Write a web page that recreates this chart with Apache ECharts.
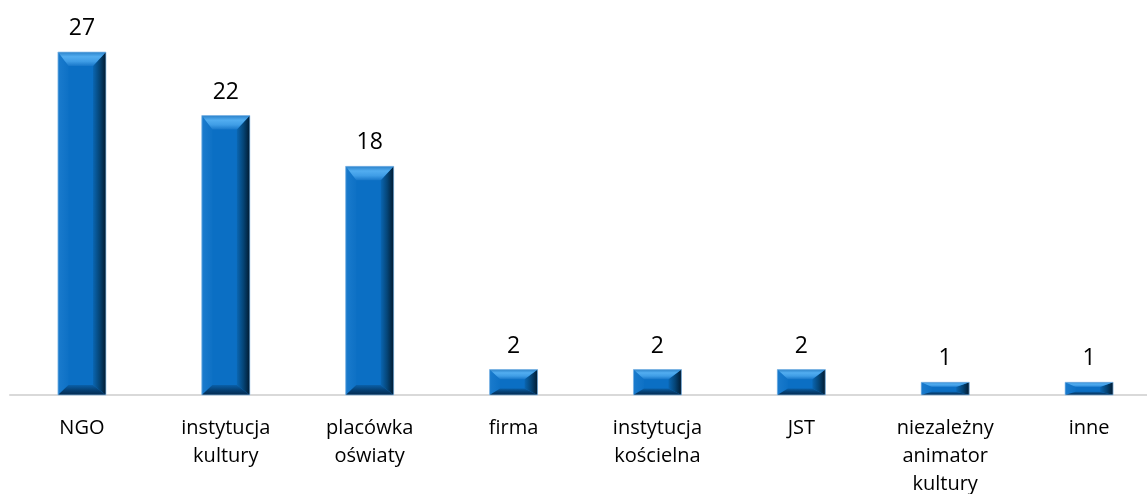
<!DOCTYPE html>
<html>
<head>
<meta charset="utf-8">
<script src="https://cdn.jsdelivr.net/npm/echarts@6/dist/echarts.min.js"></script>
<style>
html,body{margin:0;padding:0;background:#fff;}
#chart{width:1147px;height:494px;}
</style>
</head>
<body>
<div id="chart"></div>
<script>
const categories = ['NGO', 'instytucja\nkultury', 'placówka\noświaty', 'firma', 'instytucja\nkościelna', 'JST', 'niezależny\nanimator\nkultury', 'inne'];
const values = [27, 22, 18, 2, 2, 2, 1, 1];

const FONT = '"Open Sans", "Liberation Sans", sans-serif';
const BAR_W = 48;

function lin(x1, y1, x2, y2, stops) {
  return new echarts.graphic.LinearGradient(x1, y1, x2, y2,
    stops.map((c, i) => ({ offset: i / (stops.length - 1), color: c })));
}

function renderBar(params, api) {
  const idx = api.value(0);
  const v = api.value(1);
  const top = api.coord([idx, v]);
  const base = api.coord([idx, 0]);
  const w = BAR_W;
  const x0 = top[0] - w / 2, x1 = top[0] + w / 2;
  const y0 = top[1], y1 = base[1];
  const h = y1 - y0;
  const bl = Math.min(11, w * 0.22);
  const br = Math.min(13, w * 0.27);
  const bt = Math.min(14, h * 0.38);
  const bb = Math.min(10, h * 0.26);
  const fx0 = x0 + bl, fx1 = x1 - br, fy0 = y0 + bt, fy1 = y1 - bb;
  return {
    type: 'group',
    children: [
      { type: 'rect', shape: { x: x0, y: y0, width: w, height: h },
        style: { fill: '#0b6fc4' } },
      { type: 'polygon', shape: { points: [[x0, y0], [fx0, fy0], [fx0, fy1], [x0, y1]] },
        style: { fill: lin(0, 0, 1, 0, ['#1a7bcd', '#0e71c5']) } },
      { type: 'polygon', shape: { points: [[x1, y0], [x1, y1], [fx1, fy1], [fx1, fy0]] },
        style: { fill: lin(0, 0, 1, 0, ['#0a66b2', '#054577', '#011a30']) } },
      { type: 'polygon', shape: { points: [[x0, y1], [fx0, fy1], [fx1, fy1], [x1, y1]] },
        style: { fill: lin(0, 0, 0, 1, ['#0a60a9', '#064175', '#032a4f']) } },
      { type: 'polygon', shape: { points: [[x0, y0], [x1, y0], [fx1, fy0], [fx0, fy0]] },
        style: { fill: lin(0, 0, 0, 1, ['#2b82ca', '#52adf0', '#3f9de6', '#1877c9']) } },
      { type: 'rect', shape: { x: x0, y: y0, width: w, height: h },
        style: { fill: null, stroke: 'rgba(150,195,235,0.7)', lineWidth: 1 } }
    ]
  };
}

const chart = echarts.init(document.getElementById('chart'), null, { renderer: 'canvas' });
chart.setOption({
  animation: false,
  backgroundColor: '#ffffff',
  grid: { left: 10, width: 1151, top: 52, height: 343, containLabel: false, outerBoundsMode: 'none' },
  xAxis: {
    type: 'category',
    data: categories,
    axisLine: { show: true, lineStyle: { color: '#d9d9d9', width: 2 } },
    axisTick: { show: false },
    axisLabel: {
      interval: 0, margin: 19, color: '#000000',
      fontFamily: FONT, fontSize: 20, lineHeight: 28
    }
  },
  yAxis: {
    type: 'value', min: 0, max: 27,
    show: false, splitLine: { show: false }
  },
  series: [
    {
      type: 'bar',
      data: values,
      barWidth: BAR_W,
      itemStyle: { color: 'rgba(0,0,0,0)' },
      label: {
        show: true, position: 'top', distance: 12,
        color: '#000000', fontFamily: FONT, fontSize: 23
      },
      z: 5
    },
    {
      type: 'custom',
      data: values.map((v, i) => [i, v]),
      encode: { x: 0, y: 1 },
      renderItem: renderBar,
      z: 2
    }
  ]
});
</script>
</body>
</html>
